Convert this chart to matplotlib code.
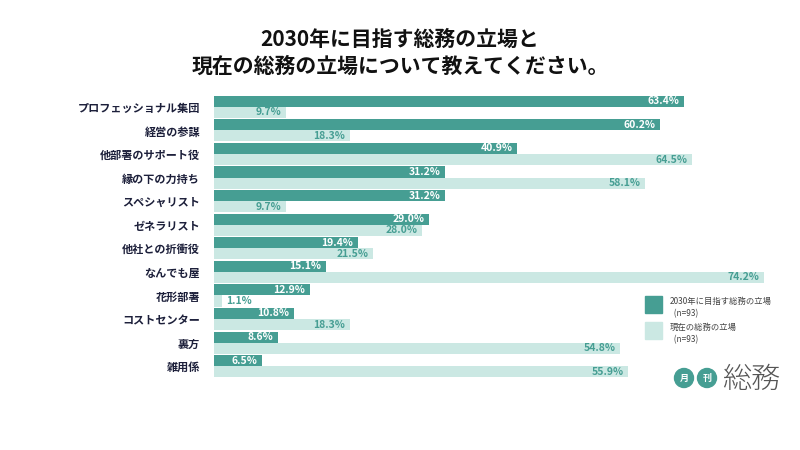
import numpy as np
import matplotlib
matplotlib.use('agg')
import matplotlib.pyplot as plt
from matplotlib.patches import Rectangle, Ellipse

plt.rcParams['font.family'] = ['Noto Sans CJK JP', 'DejaVu Sans']

categories = ['プロフェッショナル集団', '経営の参謀', '他部署のサポート役', '縁の下の力持ち',
              'スペシャリスト', 'ゼネラリスト', '他社との折衝役', 'なんでも屋',
              '花形部署', 'コストセンター', '裏方', '雑用係']
future = [63.4, 60.2, 40.9, 31.2, 31.2, 29.0, 19.4, 15.1, 12.9, 10.8, 8.6, 6.5]
current = [9.7, 18.3, 64.5, 58.1, 9.7, 28.0, 21.5, 74.2, 1.1, 18.3, 54.8, 55.9]
legend_labels = ['2030年に目指す総務の立場\n  (n=93)', '現在の総務の立場\n  (n=93)']

dark = '#469e93'
light = '#cbe8e3'
navy = '#1c1f3a'

fig = plt.figure(figsize=(8, 4.5), dpi=100)
ax = fig.add_axes([214/800, 1-378/450, (770-214)/800, (378-95)/450])

y = np.arange(len(categories))
h = 0.47
ax.barh(y - h/2, future, height=h, color=dark)
ax.barh(y + h/2, current, height=h, color=light)

for i in range(len(categories)):
    for v, yy, tc in [(future[i], y[i] - h/2, 'white'), (current[i], y[i] + h/2, dark)]:
        if v < 5:
            ax.text(v + 0.6, yy, f'{v:.1f}%', ha='left', va='center', color=dark,
                    fontsize=7.5, fontweight='bold')
        else:
            ax.text(v - 0.6, yy, f'{v:.1f}%', ha='right', va='center', color=tc,
                    fontsize=7.5, fontweight='bold')

ax.set_xlim(0, 75)
ax.set_ylim(len(categories) - 0.5, -0.5)
ax.set_yticks(y)
ax.set_yticklabels(categories, fontsize=8, fontweight='bold', color=navy)
ax.tick_params(axis='y', length=0, pad=10)
ax.set_xticks([])
for s in ax.spines.values():
    s.set_visible(False)

fig.text(0.5, 1-53/450, '2030年に目指す総務の立場と\n現在の総務の立場について教えてください。',
         ha='center', va='center', fontsize=15, fontweight='bold', color='#111111',
         linespacing=1.35)

# legend
for k, (col, top) in enumerate([(dark, 296), (light, 322)]):
    fig.add_artist(Rectangle((645/800, 1-(top+17)/450), 17/800, 17/450,
                             transform=fig.transFigure, color=col))
    fig.text(670/800, 1-(top+1)/450, legend_labels[k], ha='left', va='top',
             fontsize=6, color='#444444', linespacing=1.5)

# logo
for cx, ch in [(684, '月'), (707, '刊')]:
    fig.add_artist(Ellipse((cx/800, 1-378/450), 19/800, 19/450,
                           transform=fig.transFigure, color=dark))
    fig.text(cx/800, 1-378/450, ch, ha='center', va='center', fontsize=6.5,
             fontweight='bold', color='white')
fig.text(722/800, 1-380/450, '総務', ha='left', va='center', fontsize=21,
         fontweight='light', color='#555555')

plt.savefig('out.png', dpi=100)
plt.close()
